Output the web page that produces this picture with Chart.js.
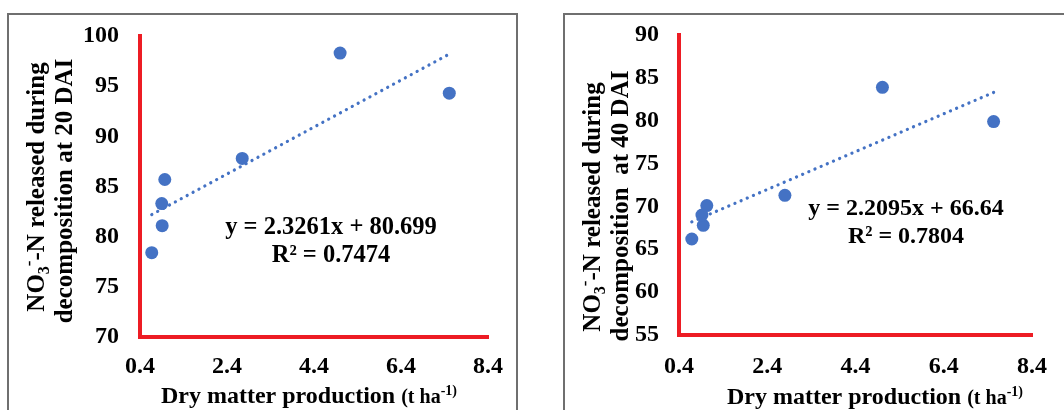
<!DOCTYPE html>
<html>
<head>
<meta charset="utf-8">
<script src="https://cdn.jsdelivr.net/npm/chart.js@4.4.1/dist/chart.umd.min.js"></script>
<style>
  html, body { margin: 0; padding: 0; background: #fff; overflow: hidden; }
  #wrap { position: relative; width: 1064px; height: 410px; overflow: hidden; }
  .frame { position: absolute; top: 13px; height: 460px; border: 2px solid #6f6f6f; box-sizing: border-box; }
  #frame20 { left: 7px; width: 511px; }
  #frame40 { left: 563px; width: 530px; }
  canvas { position: absolute; top: 0; }
  #c20 { left: 0; }
  #c40 { left: 536px; }
</style>
</head>
<body>
<div id="wrap">
  <div class="frame" id="frame20"></div>
  <div class="frame" id="frame40"></div>
  <canvas id="c20" width="536" height="410"></canvas>
  <canvas id="c40" width="528" height="410"></canvas>
</div>
<script>
// dry matter (t/ha) vs NO3-N released, 20 DAI
const dm20 = [0.67, 0.91, 0.90, 0.97, 2.75, 5.00, 7.51];
const no3At20 = [78.4, 81.1, 83.3, 85.7, 87.8, 98.3, 94.3];
// 40 DAI
const dm40 = [0.69, 0.95, 0.92, 1.03, 2.80, 5.01, 7.53];
const no3At40 = [66.2, 67.8, 69.0, 70.1, 71.3, 83.9, 79.9];

// linear trendline ends
const trend20X = [0.67, 7.51];
const trend20Y = [82.2, 98.2];
const trend40X = [0.69, 7.53];
const trend40Y = [68.2, 83.3];

const xTicks = [0.4, 2.4, 4.4, 6.4, 8.4];
const xTickLabels = ['0.4', '2.4', '4.4', '6.4', '8.4'];
const yTicks20 = [70, 75, 80, 85, 90, 95, 100];
const yTicks40 = [55, 60, 65, 70, 75, 80, 85, 90];

const eq20 = ['y = 2.3261x + 80.699', 'R² = 0.7474'];
const eq40 = ['y = 2.2095x + 66.64', 'R² = 0.7804'];

const SERIF = '"Liberation Serif", "Times New Roman", serif';
const BLUE = '#4472C4';
const RED = '#ED1C24';

Chart.defaults.font.family = SERIF;
Chart.defaults.color = '#000';

function drawParts(ctx, parts, x, y, align) {
  let total = 0;
  parts.forEach(p => {
    ctx.font = `bold ${p.size}px ${SERIF}`;
    p.w = ctx.measureText(p.t).width;
    total += p.w;
  });
  let cx = align === 'center' ? x - total / 2 : x;
  parts.forEach(p => {
    ctx.font = `bold ${p.size}px ${SERIF}`;
    ctx.fillText(p.t, cx, y + (p.dy || 0));
    cx += p.w;
  });
}

const richText = {
  id: 'richText',
  afterDraw(chart, args, opts) {
    const { ctx, chartArea } = chart;
    ctx.save();
    ctx.fillStyle = '#000';
    ctx.textBaseline = 'alphabetic';
    ctx.textAlign = 'left';
    opts.yTitle.forEach(line => {
      ctx.save();
      ctx.translate(line.x, line.y);
      ctx.rotate(-Math.PI / 2);
      drawParts(ctx, line.parts, 0, 0, 'center');
      ctx.restore();
    });
    drawParts(ctx, opts.xTitle.parts, opts.xTitle.x, opts.xTitle.y, 'left');
    ctx.textBaseline = 'middle';
    opts.equation.lines.forEach((t, i) => {
      drawParts(ctx, [{ t, size: opts.equation.size }],
        chartArea.left + opts.equation.dx,
        chartArea.top + opts.equation.dy + i * opts.equation.gap, 'center');
    });
    ctx.restore();
  }
};

function noTitleLine1() {
  return [
    { t: 'NO', size: 25 },
    { t: '3', size: 16, dy: 5 },
    { t: '-', size: 17, dy: -10 },
    { t: '-N released during', size: 25 }
  ];
}

function xTitleParts() {
  return [
    { t: 'Dry matter production ', size: 24 },
    { t: '(t ha', size: 20 },
    { t: '-1)', size: 14, dy: -8 }
  ];
}

function makeChart(id, xs, ys, tx, ty, yTicks, box, text) {
  const pts = xs.map((x, i) => ({ x, y: ys[i] }));
  const trend = tx.map((x, i) => ({ x, y: ty[i] }));
  return new Chart(document.getElementById(id), {
    type: 'scatter',
    data: {
      datasets: [
        {
          data: pts,
          backgroundColor: BLUE,
          borderColor: BLUE,
          borderWidth: 0,
          pointRadius: 6.5,
          pointHoverRadius: 6.5
        },
        {
          type: 'line',
          data: trend,
          borderColor: BLUE,
          borderWidth: 3.2,
          borderDash: [0.1, 6.6],
          borderCapStyle: 'round',
          pointRadius: 0,
          fill: false
        }
      ]
    },
    options: {
      responsive: false,
      animation: false,
      events: [],
      layout: { padding: { left: 0, right: box.right, top: box.top, bottom: 0 } },
      scales: {
        x: {
          type: 'linear',
          min: xTicks[0],
          max: xTicks[xTicks.length - 1],
          afterBuildTicks: s => { s.ticks = xTicks.map(v => ({ value: v })); },
          afterFit: s => { s.height = box.xh; },
          grid: { display: false, drawTicks: false },
          border: { display: true, color: RED, width: 4 },
          ticks: {
            padding: box.xpad,
            font: { size: 24, weight: 'bold' },
            color: '#000',
            callback: (v, i) => xTickLabels[i]
          }
        },
        y: {
          type: 'linear',
          min: yTicks[0],
          max: yTicks[yTicks.length - 1],
          afterBuildTicks: s => { s.ticks = yTicks.map(v => ({ value: v })); },
          afterFit: s => { s.width = box.left; },
          grid: { display: false, drawTicks: false },
          border: { display: true, color: RED, width: 4 },
          ticks: {
            padding: box.ypad,
            font: { size: 24, weight: 'bold' },
            color: '#000',
            callback: v => String(v)
          }
        }
      },
      plugins: {
        legend: { display: false },
        tooltip: { enabled: false },
        richText: text
      }
    },
    plugins: [richText]
  });
}

makeChart('c20', dm20, no3At20, trend20X, trend20Y, yTicks20,
  { left: 140, right: 48, top: 36, xh: 73, xpad: 15, ypad: 21 },
  {
    yTitle: [
      { x: 44, y: 187, parts: noTitleLine1() },
      { x: 72, y: 191, parts: [{ t: 'decomposition at 20 DAI', size: 25 }] }
    ],
    xTitle: { x: 161, y: 403, parts: xTitleParts() },
    equation: { lines: eq20, size: 24.5, dx: 191, dy: 192, gap: 28 }
  });

makeChart('c40', dm40, no3At40, trend40X, trend40Y, yTicks40,
  { left: 143, right: 19, top: 35, xh: 75, xpad: 17, ypad: 20 },
  {
    yTitle: [
      { x: 64, y: 207, parts: noTitleLine1() },
      { x: 92, y: 206, parts: [{ t: 'decomposition  at 40 DAI', size: 25 }] }
    ],
    xTitle: { x: 191, y: 404, parts: xTitleParts() },
    equation: { lines: eq40, size: 24, dx: 227, dy: 174, gap: 28 }
  });
</script>
</body>
</html>
